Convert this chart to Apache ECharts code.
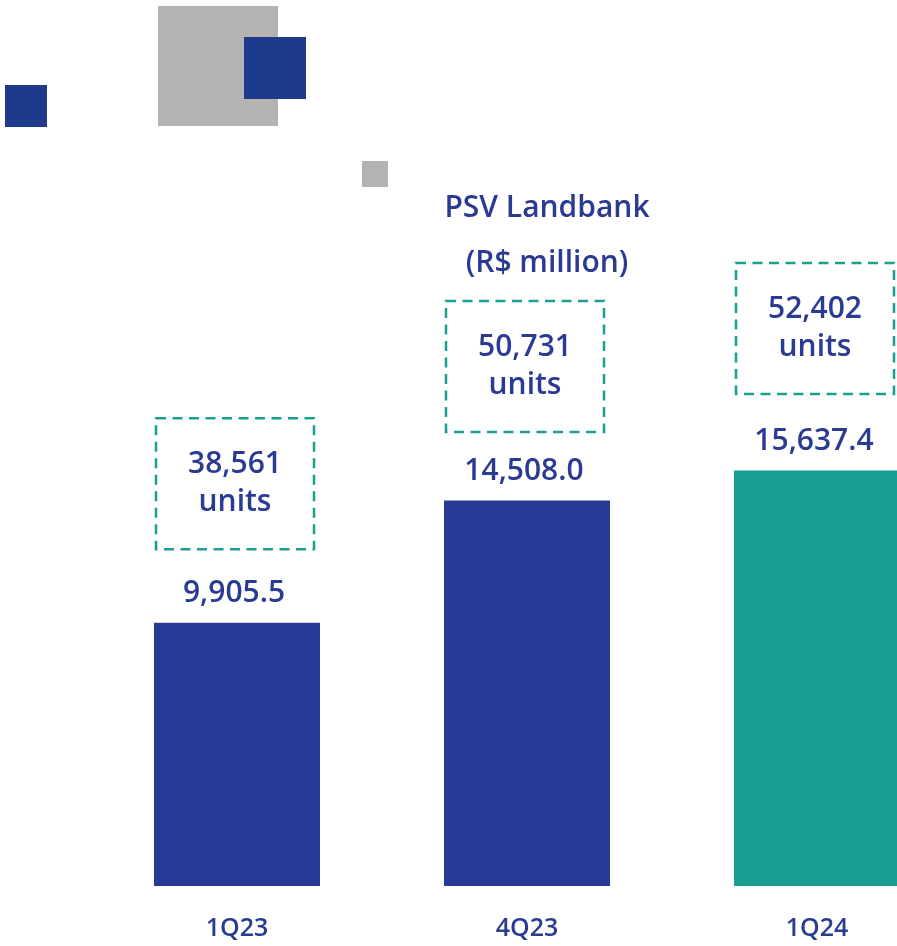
<!DOCTYPE html>
<html><head><meta charset="utf-8">
<script src="https://cdn.jsdelivr.net/npm/echarts@6/dist/echarts.min.js"></script>
<style>html,body{margin:0;padding:0;background:#fff}#c{width:897px;height:946px}</style>
</head><body><div id="c"></div>
<script>
const categories = ['1Q23', '4Q23', '1Q24'];
const psvValues = [9905.5, 14508.0, 15637.4];
const unitCounts = [38561, 50731, 52402];
const barColors = ['#283a97', '#283a97', '#179e90'];

const textBlue = '#2b3a93';
const font = '"Open Sans", sans-serif';
const fmt = (v, d) => v.toLocaleString('en-US', {minimumFractionDigits: d, maximumFractionDigits: d});
const boxOffsets = [-139, -134, -142];

const chart = echarts.init(document.getElementById('c'), null, {renderer: 'canvas'});
chart.setOption({
  backgroundColor: '#fff',
  animation: false,
  title: {
    text: 'PSV Landbank\n(R$ million)',
    left: 542, top: 176, textAlign: 'center',
    textStyle: {color: textBlue, fontFamily: font, fontWeight: 600, fontSize: 30, lineHeight: 55}
  },
  graphic: [
    {type: 'rect', shape: {x: 158, y: 6, width: 120, height: 120}, style: {fill: '#b3b3b3'}},
    {type: 'rect', shape: {x: 244, y: 37, width: 62, height: 62}, style: {fill: '#1e3a8c'}},
    {type: 'rect', shape: {x: 5, y: 85, width: 42, height: 42}, style: {fill: '#1e3a8c'}},
    {type: 'rect', shape: {x: 362, y: 161, width: 26, height: 26}, style: {fill: '#b3b3b3'}}
  ],
  grid: {left: 92, width: 870, top: 89, bottom: 60, outerBoundsMode: 'none', containLabel: false},
  xAxis: {
    type: 'category', data: categories,
    axisLine: {show: false}, axisTick: {show: false},
    axisLabel: {color: textBlue, fontFamily: font, fontWeight: 600, fontSize: 25, margin: 30}
  },
  yAxis: {type: 'value', min: 0, max: 30000, show: false, splitLine: {show: false}},
  series: [
    {
      type: 'bar', barWidth: 166,
      data: psvValues.map((v, i) => ({value: v, itemStyle: {color: barColors[i]}})),
      label: {
        show: true, position: 'top', distance: 14, offset: [-3, 0],
        formatter: p => fmt(p.value, 1),
        color: textBlue, fontFamily: font, fontWeight: 600, fontSize: 30
      }
    },
    {
      type: 'scatter', symbolSize: 0,
      itemStyle: {opacity: 1},
      data: psvValues.map((v, i) => ({value: v, label: {offset: [-2, boxOffsets[i]]}})),
      label: {
        show: true, position: 'inside', opacity: 1,
        formatter: p => fmt(unitCounts[p.dataIndex], 0) + '\nunits',
        color: textBlue, fontFamily: font, fontWeight: 600, fontSize: 30, lineHeight: 38,
        width: 158, height: 127, align: 'center', verticalAlign: 'middle',
        borderColor: '#1aa08f', borderWidth: 2.5, borderType: [10, 6.5],
        padding: [4, 0, 0, 0]
      }
    }
  ]
});
</script></body></html>
